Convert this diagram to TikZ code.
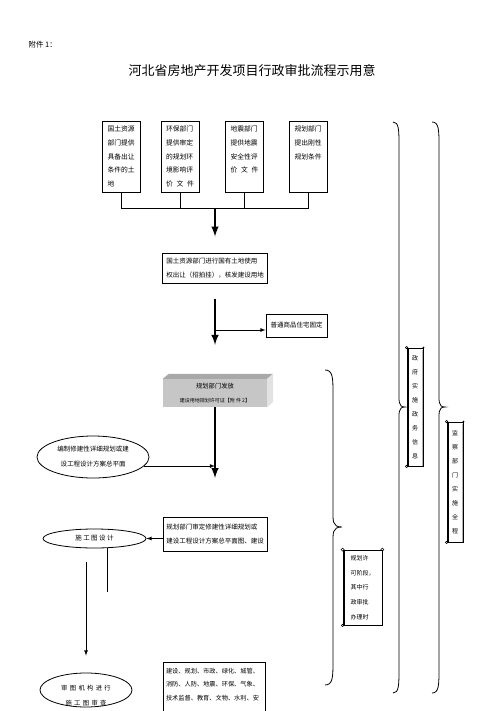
\documentclass[tikz,border=0pt]{standalone}
\usepackage{fontspec}
\setmainfont{Noto Sans CJK SC}
\usepackage{tikz}
\usetikzlibrary{arrows,shapes.geometric}
\definecolor{boxtop}{RGB}{168,168,168}
\definecolor{boxfront}{RGB}{198,198,198}
\definecolor{boxside}{RGB}{226,226,226}

\tikzset{
  srcbox/.style={draw, line width=1pt, anchor=north, inner xsep=5pt, inner ysep=4.5pt, font=\fontsize{6.8}{13.7}\selectfont},
  stepbox/.style={draw, line width=1pt, align=left, inner sep=0pt},
  oval/.style={draw, ellipse, line width=0.8pt, inner sep=0pt, align=center},
  scroll/.style={draw, fill=white, line width=0.8pt, inner sep=0pt, font=\fontsize{6}{14}\selectfont},
  bigarrow/.style={-latex, line width=2.4pt},
  thinarrow/.style={-latex, line width=0.8pt},
}
\newcommand{\srctext}[1]{\parbox[t][62pt][t]{28pt}{\raggedright #1}}
\newcommand{\spreadline}[3]{\makebox[\linewidth]{#1\hfill #2\hfill #3}}

\begin{document}
\begin{tikzpicture}[x=1pt, y=-1pt, font=\fontsize{6.5}{13.7}\selectfont]
    \useasboundingbox (0,0) rectangle (503,711);

    % heading
    \node[anchor=west, font=\fontsize{7.5}{9}\selectfont] (annex) at (25,45) {附件 1：};
    \node[font=\fontsize{13}{15}\selectfont] (title) at (252,71) {河北省房地产开发项目行政审批流程示用意};

    % departments that supply documents
    \node[srcbox] (landsrc) at (121.5,121) {\srctext{国土资源\\部门提供\\具备出让\\条件的土\\地}};
    \node[srcbox] (envsrc) at (180,121) {\srctext{环保部门\\提供审定\\的规划环\\境影响评\\ \spreadline{价}{文}{件}}};
    \node[srcbox] (quakesrc) at (244.5,121) {\srctext{地震部门\\提供地震\\安全性评\\ \spreadline{价}{文}{件}}};
    \node[srcbox] (plansrc) at (308.5,121) {\srctext{规划部门\\提出刚性\\规划条件}};

    \coordinate (bar) at (215,209);
    \foreach \src in {landsrc,envsrc,quakesrc,plansrc}
        \draw[line width=0.9pt] (\src.south) -- (\src.south |- bar);
    \draw[line width=1pt] (landsrc.south |- bar) -- (plansrc.south |- bar);

    % land grant
    \node[stepbox, minimum width=105pt, minimum height=30pt] (landgrant) at (215,268) {国土资源部门进行国有土地使用\\权出让（招拍挂），核发建设用地};
    \draw[bigarrow] (bar) -- ([yshift=16pt]landgrant.north);

    % planning permit block
    \node[fill=boxfront, minimum width=104pt, minimum height=28pt, inner sep=0pt, align=center, font=\fontsize{6.3}{14}\selectfont] (permit3d) at (215,393) {规划部门发放\\{\fontsize{5}{14}\selectfont 建设用地规划许可证【附 件 2】}};
    \fill[boxtop] (permit3d.north west) -- ++(6,-5) -- ++(104,0) -- (permit3d.north east) -- cycle;
    \fill[boxside] (permit3d.north east) -- ++(6,-5) -- ++(0,28) -- (permit3d.south east) -- cycle;

    \node[stepbox, minimum width=61pt, minimum height=23pt] (housing) at (296.5,325.5) {普通商品住宅固定};
    \coordinate (split) at (215,330);
    \draw[bigarrow] ([yshift=-15pt]landgrant.south) -- ([yshift=34pt]permit3d.north);
    \draw[thinarrow] (split) -- (split -| housing.west);

    \coordinate (merge) at (215,478);
    \draw[bigarrow] (permit3d.south) -- (merge);

    % detailed plan
    \node[oval, minimum width=112pt, minimum height=42pt, font=\fontsize{6.5}{15}\selectfont] (draft) at (93,457) {编制修建性详细规划或建\\设工程设计方案总平面};
    \draw[thinarrow] (draft.-10) -- (draft.-10 -| merge);

    \node[stepbox, minimum width=104pt, minimum height=34pt] (check) at (215,534) {规划部门审定修建性详细规划或\\建设工程设计方案总平面图、建设};
    \node[oval, minimum width=103pt, minimum height=19pt, font=\fontsize{6.5}{14}\selectfont] (drawing) at (94.5,538.5) {施 工 图 设 计};
    \draw[thinarrow] (check.west |- drawing) -- (drawing.east);

    % drawing review
    \coordinate (dropA) at (107,592);
    \coordinate (dropB) at (86,562);
    \draw[line width=0.9pt] (dropA |- drawing.south) -- (dropA);
    \node[oval, minimum width=92pt, minimum height=34pt] (audit) at (86,690) {};
    \node[align=center, font=\fontsize{6.3}{15}\selectfont\addfontfeatures{LetterSpace=15}] (audittext) at (86,695.5) {审 图 机 构 进 行\\施 工 图 审 查};
    \draw[thinarrow] (dropB) -- ([yshift=17pt]audit.north);

    \node[stepbox, anchor=north, inner xsep=3pt, inner ysep=5.5pt, font=\fontsize{6.2}{13.5}\selectfont] (cobodies) at (214,662) {\parbox[t][52pt][t]{96pt}{\raggedright 建设、规划、市政、绿化、城管、\\消防、人防、地震、环保、气象、\\技术监督、教育、文物、水利、安}};

    % braces
    \foreach \xe/\xb/\xt/\yt/\ym/\yb in {325/333/342/370/527/685, 393/399/405/122/407/693, 432/439/445/122/407/693}
        \draw[line width=0.8pt] (\xe,\yt) .. controls (\xb,\yt) and (\xb,\yt+8) .. (\xb,\yt+25) -- (\xb,\ym-18) .. controls (\xb,\ym-6) and (\xb-1,\ym) .. (\xt,\ym) .. controls (\xb-1,\ym) and (\xb,\ym+6) .. (\xb,\ym+18) -- (\xb,\yb-25) .. controls (\xb,\yb-8) and (\xb,\yb) .. (\xe,\yb);

    % scroll notes
    \node[scroll, minimum width=16pt, minimum height=118pt, align=center] (govinfo) at (415,407) {政\\府\\实\\施\\政\\务\\信\\息};
    \node[scroll, minimum width=16pt, minimum height=120pt, align=center] (supervise) at (455,482) {监\\察\\部\\门\\实\\施\\全\\程};
    \foreach \scr in {govinfo,supervise} {
        \draw[line width=0.6pt] ([xshift=2pt]\scr.north west) -- ([xshift=2pt]\scr.south west);
        \draw[gray!60, line width=1.2pt] ([xshift=-1.2pt,yshift=-2pt]\scr.north east) -- ([xshift=-1.2pt]\scr.south east);
        \fill (\scr.north east) circle (1pt);
        \draw[line width=0.6pt] (\scr.north west) circle (1.2pt);
        \draw[line width=0.6pt] (\scr.south west) circle (1.2pt);
    }
    \node[scroll, minimum width=39pt, minimum height=75pt, align=left, font=\fontsize{6}{14.7}\selectfont] (stage) at (362.5,587.5) {规划许\\可阶段，\\其中行\\政审批\\办理时};
    \draw[line width=0.6pt] ([xshift=2pt]stage.north west) -- ([xshift=2pt]stage.south west);
    \draw[line width=0.6pt] (stage.north west) circle (1.5pt);
    \draw[line width=0.6pt] (stage.north east) circle (1.5pt);
    \draw[line width=0.6pt] (stage.south west) circle (1.2pt);
\end{tikzpicture}
\end{document}
